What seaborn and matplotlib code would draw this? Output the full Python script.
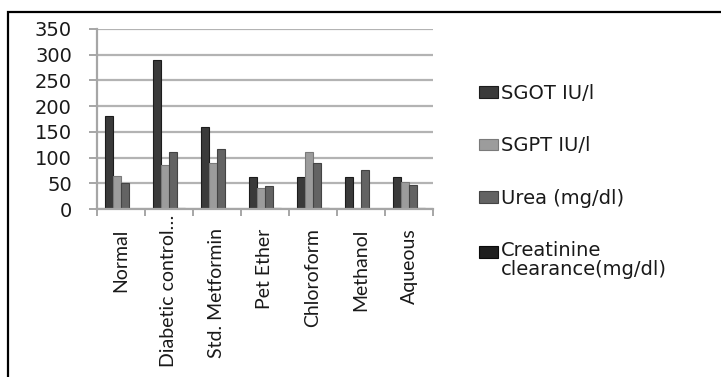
import matplotlib
matplotlib.use("Agg")
import matplotlib.pyplot as plt
from matplotlib.patches import Rectangle, Patch
from matplotlib.legend_handler import HandlerPatch
from matplotlib.ticker import MultipleLocator, FixedLocator
from matplotlib.transforms import ScaledTranslation
import seaborn as sns
import pandas as pd
import numpy as np

# Treatment groups and measured parameters
groups = ["Normal", "Diabetic control group", "Std. Metformin", "Pet Ether",
          "Chloroform", "Methanol", "Aqueous"]
group_labels = ["Normal", "Diabetic control\u2026", "Std. Metformin", "Pet Ether",
                "Chloroform", "Methanol", "Aqueous"]
series = ["SGOT IU/l", "SGPT IU/l", "Urea (mg/dl)", "Creatinine\nclearance(mg/dl)"]

sgot = [180, 290, 160, 62, 62, 62, 62]
sgpt = [65, 85, 90, 41, 110, 0, 53]
urea = [50, 110, 117, 44, 90, 76, 47]
creatinine = [0.8, 1.6, 0.9, 1.0, 1.1, 0.9, 1.0]

colors = ["#3a3a3a", "#9c9c9c", "#636363", "#1e1e1e"]
edge_colors = ["#1c1c1c", "#7a7a7a", "#444444", "#0a0a0a"]

df = pd.DataFrame({
    "group": np.repeat(groups, len(series)),
    "series": series * len(groups),
    "value": np.ravel(np.column_stack([sgot, sgpt, urea, creatinine])),
})

sns.set_theme(style="white")
plt.rcParams["font.family"] = ["DejaVu Sans"]

fig = plt.figure(figsize=(7.21, 3.77), dpi=100)
ax = fig.add_axes([97 / 721, 1 - 209 / 377, 336 / 721, 180 / 377])

sns.barplot(data=df, x="group", y="value", hue="series", order=groups,
            hue_order=series, palette=colors, width=0.68, ax=ax,
            legend=False, saturation=1, errorbar=None)

# darker outline per series
for container, ec in zip(ax.containers, edge_colors):
    for bar in container:
        bar.set_edgecolor(ec)
        bar.set_linewidth(0.8)

ax.set_ylim(0, 350)
ax.set_xlim(-0.5, len(groups) - 0.5)
ax.yaxis.set_major_locator(MultipleLocator(50))
ax.grid(axis="y", color="#b3b3b3", linewidth=1.6)
ax.grid(axis="x", visible=False)
ax.set_axisbelow(True)

grey = "#a6a6a6"
for side in ["top", "right"]:
    ax.spines[side].set_visible(False)
for side in ["left", "bottom"]:
    ax.spines[side].set_color(grey)
    ax.spines[side].set_linewidth(1.6)

ax.tick_params(axis="y", which="major", direction="out", length=6, width=1.4,
               color=grey, labelsize=14, pad=12, labelcolor="#1a1a1a", left=True)
ax.set_xticks(range(len(groups)))
ax.set_xticklabels(group_labels, rotation=90, fontfamily="Lato", fontsize=14,
                   color="#1a1a1a")
ax.tick_params(axis="x", which="major", length=0, pad=14)
ax.xaxis.set_minor_locator(FixedLocator(np.arange(-0.5, len(groups), 1.0)))
ax.tick_params(axis="x", which="minor", direction="out", length=5, width=1.4,
               color=grey, bottom=True)
ax.set_xlabel("")
ax.set_ylabel("")

# the truncated long label sits closer to the axis
long_label = ax.get_xticklabels()[1]
long_label.set_transform(long_label.get_transform()
                         + ScaledTranslation(0, 10 / 72, fig.dpi_scale_trans))


class TopAlignedPatch(HandlerPatch):
    """Legend key that sits level with the first line of a two-line label."""

    def __init__(self, shift=0.0, **kw):
        super().__init__(**kw)
        self.shift = shift

    def create_artists(self, legend, orig_handle, xdescent, ydescent, width,
                       height, fontsize, trans):
        p = Rectangle((-xdescent, -ydescent + self.shift * fontsize), width, height)
        self.update_prop(p, orig_handle, legend)
        p.set_transform(trans)
        return [p]


handles = [Patch(facecolor=c, edgecolor=e, linewidth=0.8)
           for c, e in zip(colors, edge_colors)]
leg = fig.legend(handles, series, loc="upper left",
                 bbox_to_anchor=(479 / 721, 1 - 84 / 377),
                 frameon=False, fontsize=14, handlelength=1.0, handleheight=0.55,
                 handletextpad=0.15, labelspacing=1.72, borderpad=0,
                 borderaxespad=0, labelcolor="#1a1a1a",
                 handler_map={handles[3]: TopAlignedPatch(shift=0.45)})
leg.get_texts()[3].set_linespacing(0.95)

# outer frame, open at the right and bottom edges
fig.add_artist(Rectangle((8 / 721, -0.1), 1.1, 1.1 - 12 / 377, transform=fig.transFigure,
                         fill=False, edgecolor="black", linewidth=1.6))

fig.savefig("out.png", dpi=100)
